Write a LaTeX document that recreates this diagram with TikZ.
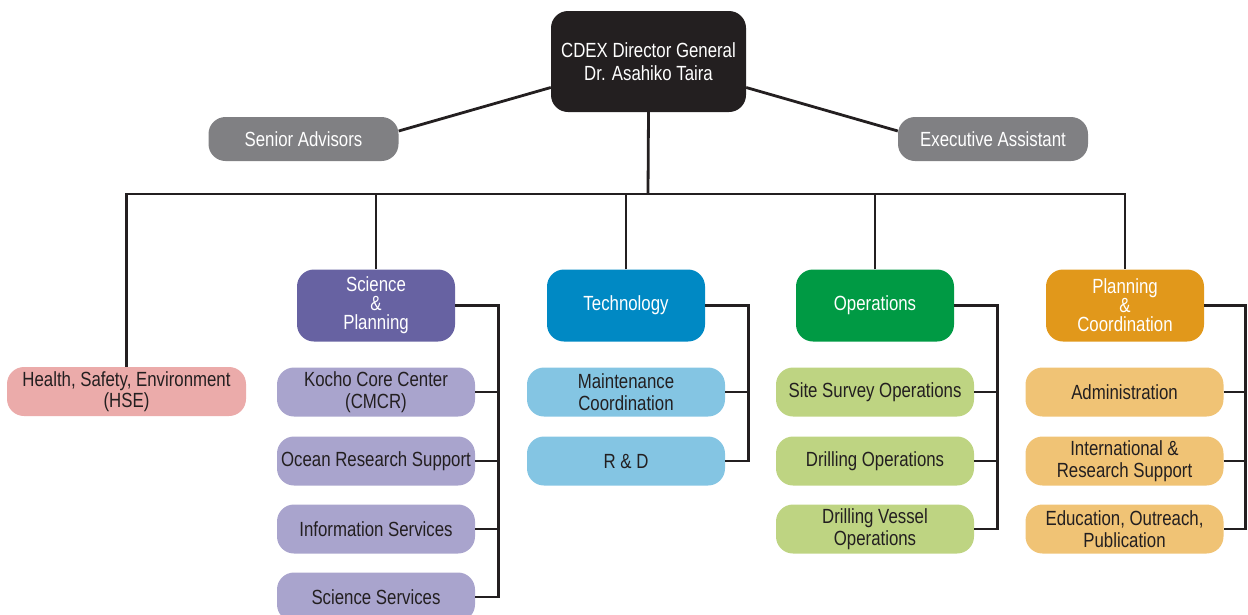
\documentclass[tikz,border=0pt]{standalone}
\usepackage{fontspec}
\setmainfont{Liberation Sans}[FakeStretch=0.82]
\usetikzlibrary{calc}
\definecolor{ink}{HTML}{231F20}
\definecolor{greybox}{HTML}{808083}
\definecolor{sciD}{HTML}{6762A2}
\definecolor{sciL}{HTML}{A9A4CD}
\definecolor{tecD}{HTML}{0089C4}
\definecolor{tecL}{HTML}{84C5E3}
\definecolor{opsD}{HTML}{009A44}
\definecolor{opsL}{HTML}{BED482}
\definecolor{plnD}{HTML}{E1981B}
\definecolor{plnL}{HTML}{F0C375}
\definecolor{hseC}{HTML}{EBABAA}
\begin{document}
\begin{tikzpicture}[x=1pt,y=-1pt,
  base/.style={rounded corners=17pt, inner sep=0pt, align=center,
    font=\fontsize{20.5}{21.5}\selectfont},
  head/.style={base, fill=ink, text=white, minimum width=195pt, minimum height=101pt,
    font=\fontsize{20.5}{23}\selectfont},
  side/.style={base, fill=greybox, text=white, minimum width=190pt, minimum height=44pt},
  dept/.style={base, fill=#1, text=white, minimum width=158pt, minimum height=72pt,
    font=\fontsize{20.5}{19}\selectfont},
  unit/.style={base, fill=#1, text=ink, minimum width=198pt, minimum height=49pt},
  link/.style={draw=ink, line width=2.8pt}]
\useasboundingbox (0,0) rectangle (1248,614);

% director and staff
\node[head] (dir) at (648.5,61.5) {CDEX Director General\\Dr. Asahiko Taira};
\node[side] (sa) at (303.5,139) {Senior Advisors};
\node[side] (ea) at (993,139) {Executive Assistant};

% departments
\node[base, fill=hseC, text=ink, minimum width=239pt, minimum height=49pt] (hse) at (126.5,391.5) {Health, Safety, Environment\\(HSE)};
\node[dept=sciD] (sp) at (376,305.5) {Science\\\&\\Planning};
\node[dept=tecD] (te) at (626,305.5) {Technology};
\node[dept=opsD] (op) at (875,305.5) {Operations};
\node[dept=plnD] (pc) at (1125,305.5) {Planning\\\&\\Coordination};

% science & planning units
\node[unit=sciL] (s1) at (376,392) {Kocho Core Center\\(CMCR)};
\node[unit=sciL] (s2) at (376,461) {Ocean Research Support};
\node[unit=sciL] (s3) at (376,529) {Information Services};
\node[unit=sciL] (s4) at (376,597) {Science Services};

% technology units
\node[unit=tecL] (t1) at (626,392) {Maintenance\\Coordination};
\node[unit=tecL] (t2) at (626,461) {R \& D};

% operations units
\node[unit=opsL] (o1) at (875,392) {Site Survey Operations};
\node[unit=opsL] (o2) at (875,461) {Drilling Operations};
\node[unit=opsL] (o3) at (875,529) {Drilling Vessel\\Operations};

% planning & coordination units
\node[unit=plnL] (p1) at (1124.5,392) {Administration};
\node[unit=plnL] (p2) at (1124.5,461) {International \&\\Research Support};
\node[unit=plnL] (p3) at (1124.5,529) {Education, Outreach,\\Publication};

% connectors: staff
\draw[link] ([yshift=-26pt]dir.west) -- ([yshift=8pt]sa.east);
\draw[link] ([yshift=-26pt]dir.east) -- ([yshift=8pt]ea.west);

% connectors: main bus
\coordinate (bus) at (648,194);
\draw[link] (dir.south) -- (bus);
\draw[link] (hse.north) |- (bus) -| (pc.north);
\draw[link] (sp.north) -- (sp.north |- bus);
\draw[link] (te.north) -- (te.north |- bus);
\draw[link] (op.north) -- (op.north |- bus);

% connectors: unit brackets
\draw[link] (sp.east) -| ([xshift=23pt]s4.east) -- (s4.east);
\foreach \u in {s1,s2,s3} \draw[link] (\u.east) -- ++(23,0);
\draw[link] (te.east) -| ([xshift=23pt]t2.east) -- (t2.east);
\draw[link] (t1.east) -- ++(23,0);
\draw[link] (op.east) -| ([xshift=23pt]o3.east) -- (o3.east);
\foreach \u in {o1,o2} \draw[link] (\u.east) -- ++(23,0);
\draw[link] (pc.east) -| ([xshift=22pt]p3.east) -- (p3.east);
\foreach \u in {p1,p2} \draw[link] (\u.east) -- ++(22,0);
\end{tikzpicture}
\end{document}
